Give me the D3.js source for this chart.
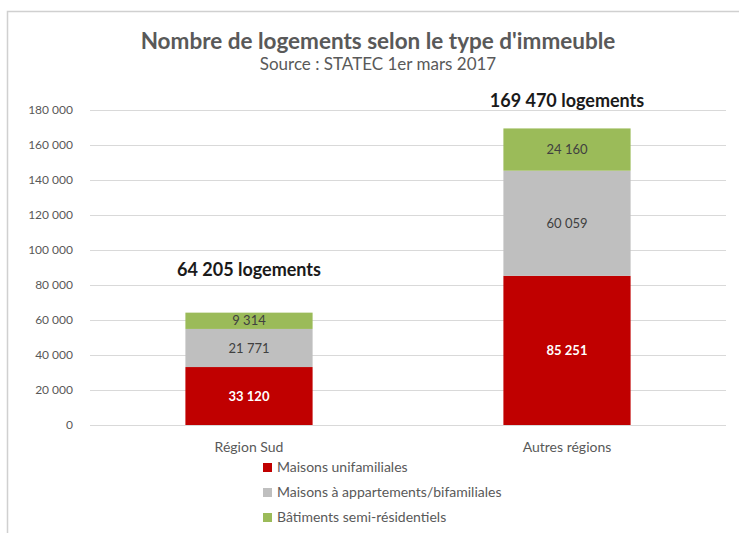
<!DOCTYPE html>
<html>
<head>
<meta charset="utf-8">
<script src="https://cdn.jsdelivr.net/npm/d3@7"></script>
<style>
  body { margin: 0; background: #fff; }
  svg { font-family: Lato, "Open Sans", sans-serif; }
</style>
</head>
<body>
<svg id="chart" width="739" height="533"></svg>
<script>
// Données
const categories = ["Région Sud", "Autres régions"];
const seriesNames = ["Maisons unifamiliales", "Maisons à appartements/bifamiliales", "Bâtiments semi-résidentiels"];
const unifamiliales = [33120, 85251];
const appartements = [21771, 60059];
const semiResidentiels = [9314, 24160];
const totalLabels = ["64 205 logements", "169 470 logements"];
const yTicks = [0, 20000, 40000, 60000, 80000, 100000, 120000, 140000, 160000, 180000];

const colors = ["#C00000", "#BFBFBF", "#9BBB59"];
const labelColors = ["#ffffff", "#404040", "#404040"];
const labelWeights = ["bold", "normal", "normal"];
// zones de texte placées à la main dans Excel : décalage au-dessus de la barre
const totalOffsets = [37, 21];

const svg = d3.select("#chart");
const W = 739, H = 533;
const margin = { top: 110, left: 90, right: 13, bottom: 108 };

// cadre gris clair (copie d'écran Excel)
svg.append("rect")
    .attr("x", 7.5).attr("y", 11.5)
    .attr("width", W + 10).attr("height", H + 10)
    .attr("fill", "none")
    .attr("stroke", "#d0d0d0")
    .attr("stroke-width", 1.5);

const x = d3.scaleBand()
    .domain(categories)
    .range([margin.left, W - margin.right])
    .paddingInner(0.6)
    .paddingOuter(0.3);

const y = d3.scaleLinear()
    .domain([0, 180000])
    .range([H - margin.bottom, margin.top]);

const fmt = v => d3.format(",")(v).replace(/,/g, " ");

// grille
svg.append("g")
    .selectAll("line")
    .data(yTicks)
    .enter().append("line")
    .attr("x1", margin.left)
    .attr("x2", W - margin.right)
    .attr("y1", d => Math.round(y(d)) + 0.5)
    .attr("y2", d => Math.round(y(d)) + 0.5)
    .attr("stroke", "#d9d9d9")
    .attr("stroke-width", 1);

// axe Y
const yAxis = svg.append("g")
    .attr("transform", `translate(${margin.left - 14},0)`)
    .call(d3.axisLeft(y).tickValues(yTicks).tickFormat(fmt).tickSize(0));
yAxis.select(".domain").remove();
yAxis.selectAll("text")
    .attr("fill", "#595959")
    .style("font-size", "12px")
    .style("font-family", "Lato, sans-serif");

// empilement
const rows = categories.map((c, i) => ({
    cat: c,
    values: [unifamiliales[i], appartements[i], semiResidentiels[i]]
}));

rows.forEach((row, i) => {
    let acc = 0;
    row.values.forEach((v, s) => {
        const y0 = acc, y1 = acc + v;
        acc = y1;
        svg.append("rect")
            .attr("x", x(row.cat))
            .attr("width", x.bandwidth())
            .attr("y", y(y1))
            .attr("height", y(y0) - y(y1))
            .attr("fill", colors[s]);
        svg.append("text")
            .attr("x", x(row.cat) + x.bandwidth() / 2)
            .attr("y", (y(y0) + y(y1)) / 2)
            .attr("dy", "0.35em")
            .attr("text-anchor", "middle")
            .attr("fill", labelColors[s])
            .attr("font-weight", labelWeights[s])
            .style("font-size", "13px")
            .text(fmt(v));
    });
    // total
    svg.append("text")
        .attr("x", x(row.cat) + x.bandwidth() / 2)
        .attr("y", y(acc) - totalOffsets[i])
        .attr("text-anchor", "middle")
        .attr("fill", "#1a1a1a")
        .attr("font-weight", "bold")
        .style("font-size", "18px")
        .text(totalLabels[i]);
});

// libellés des catégories
svg.append("g")
    .selectAll("text")
    .data(categories)
    .enter().append("text")
    .attr("x", d => x(d) + x.bandwidth() / 2)
    .attr("y", H - margin.bottom + 27)
    .attr("text-anchor", "middle")
    .attr("fill", "#595959")
    .style("font-size", "14px")
    .text(d => d);

// titre
svg.append("text")
    .attr("x", 378).attr("y", 49)
    .attr("text-anchor", "middle")
    .attr("fill", "#595959")
    .attr("font-weight", "bold")
    .style("font-size", "22.5px")
    .text("Nombre de logements selon le type d'immeuble");
svg.append("text")
    .attr("x", 378).attr("y", 70)
    .attr("text-anchor", "middle")
    .attr("fill", "#595959")
    .style("font-size", "17px")
    .text("Source : STATEC 1er mars 2017");

// légende
const legend = svg.append("g").attr("transform", "translate(263,463)");
seriesNames.forEach((name, i) => {
    const g = legend.append("g").attr("transform", `translate(0,${i * 25})`);
    g.append("rect").attr("width", 9).attr("height", 9).attr("fill", colors[i]);
    g.append("text")
        .attr("x", 14).attr("y", 4.5).attr("dy", "0.35em")
        .attr("fill", "#595959")
        .style("font-size", "14px")
        .text(name);
});
</script>
</body>
</html>
